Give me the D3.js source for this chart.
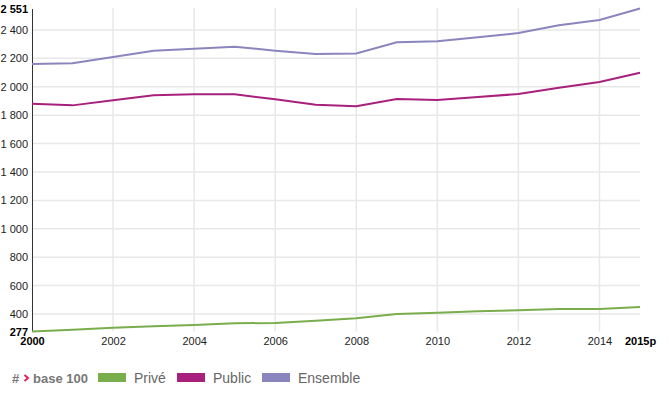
<!DOCTYPE html>
<html><head><meta charset="utf-8">
<script src="https://cdn.jsdelivr.net/npm/d3@7"></script>
<style>body{margin:0;background:#fff;font-family:Arial,"Liberation Sans",sans-serif;}</style>
</head><body><svg id="c" width="669" height="395"></svg>
<script>
const years = [2000,2001,2002,2003,2004,2005,2006,2007,2008,2009,2010,2011,2012,2013,2014,2015];
const prive = [277,289,304,314,323,335,337,353,370,400,409,419,426,435,435,450];
const publicS = [1881,1869,1905,1940,1947,1947,1912,1874,1863,1914,1907,1928,1949,1993,2033,2099];
const ensemble = [2160,2165,2209,2254,2268,2282,2254,2231,2235,2313,2320,2348,2378,2433,2470,2551];
const xTicks = [2000,2002,2004,2006,2008,2010,2012,2014,2015];
const xTickLabels = ["2000","2002","2004","2006","2008","2010","2012","2014","2015p"];
const yTicks = [277,400,600,800,1000,1200,1400,1600,1800,2000,2200,2400,2551];
const seriesNames = ["Privé","Public","Ensemble"];
const colors = ["#7aad4c","#a8207c","#8b85bd"];

const svg = d3.select("#c");
const x = d3.scaleLinear().domain([2000,2015]).range([32,640]);
const y = d3.scaleLinear().domain([277,2551]).range([331.5,8.5]);
const fmt = v => d3.format(",")(v).replace(/,/g," ");

// grid
const g = svg.append("g");
g.selectAll("line.h").data(yTicks.filter(d=>d!==277&&d!==2551)).join("line")
  .attr("x1",32).attr("x2",640).attr("y1",d=>y(d)).attr("y2",d=>y(d))
  .attr("stroke","#e8e8e8").attr("stroke-width",1.5);
g.selectAll("line.v").data(xTicks.filter(d=>d!==2000&&d!==2015)).join("line")
  .attr("x1",d=>x(d)).attr("x2",d=>x(d)).attr("y1",8).attr("y2",331.5)
  .attr("stroke","#e8e8e8").attr("stroke-width",1.5);

// y axis
const yAxis = d3.axisLeft(y).tickValues(yTicks).tickSize(0).tickPadding(4).tickFormat(fmt);
const ya = svg.append("g").attr("transform","translate(32,0)").call(yAxis);
ya.select(".domain").attr("stroke","#333").attr("stroke-width",1);
ya.selectAll("text").attr("font-family","Arial, 'Liberation Sans', sans-serif").attr("font-size",11)
  .attr("font-weight",d=>(d===277||d===2551)?"bold":"normal")
  .attr("fill",d=>(d===277||d===2551)?"#000":"#222");

// x axis
const xAxis = d3.axisBottom(x).tickValues(xTicks).tickSize(0).tickPadding(6)
  .tickFormat((d,i)=>xTickLabels[i]);
const xa = svg.append("g").attr("transform","translate(0,331.5)").call(xAxis);
xa.select(".domain").remove();
xa.selectAll("text").attr("font-family","Arial, 'Liberation Sans', sans-serif").attr("font-size",11)
  .attr("font-weight",d=>(d===2000||d===2015)?"bold":"normal")
  .attr("fill",d=>(d===2000||d===2015)?"#000":"#222");

// lines
const series = [prive, publicS, ensemble];
const line = d3.line().x((d,i)=>x(years[i])).y(d=>y(d));
series.forEach((s,k)=>{
  svg.append("path").datum(s).attr("d",line).attr("fill","none")
    .attr("stroke",colors[k]).attr("stroke-width",2);
});

// legend
const lg = svg.append("g").attr("font-family","Arial, 'Liberation Sans', sans-serif");
lg.append("text").attr("x",12).attr("y",383).attr("font-size",13).attr("font-weight","bold").attr("fill","#777").text("#");
lg.append("path").attr("d","M24.5,375 L28,378 L24.5,381").attr("fill","none").attr("stroke","#e0245e").attr("stroke-width",2);
lg.append("text").attr("x",33).attr("y",383).attr("font-size",13).attr("font-weight","bold").attr("fill","#777").text("base 100");
const lx = [98,177,262];
seriesNames.forEach((n,k)=>{
  lg.append("rect").attr("x",lx[k]).attr("y",373).attr("width",28).attr("height",9).attr("fill",colors[k]);
  lg.append("text").attr("x",lx[k]+36).attr("y",383).attr("font-size",14).attr("fill","#666").text(n);
});
</script></body></html>
